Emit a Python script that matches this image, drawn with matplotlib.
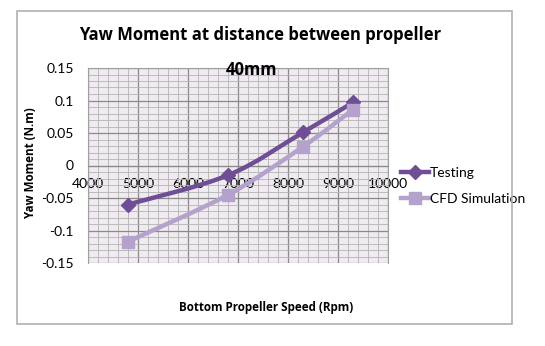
import numpy as np
import matplotlib.pyplot as plt
from matplotlib.ticker import MultipleLocator
from matplotlib.patches import Rectangle, PathPatch
from matplotlib.path import Path

plt.rcParams['font.family'] = ['Lato', 'DejaVu Sans']
bold_font = ['Open Sans', 'DejaVu Sans']

speed_testing = [4800, 6800, 8300, 9300]
moment_testing = [-0.06, -0.015, 0.051, 0.097]
speed_cfd = [4800, 6800, 8300, 9300]
moment_cfd = [-0.117, -0.045, 0.029, 0.086]


def smooth_path(xs, ys):
    # Excel style smoothed line: cubic Bezier through each point
    pts = np.column_stack([xs, ys]).astype(float)
    n = len(pts)
    verts = [pts[0]]
    codes = [Path.MOVETO]
    for i in range(n - 1):
        p0 = pts[i - 1] if i > 0 else pts[i]
        p1, p2 = pts[i], pts[i + 1]
        p3 = pts[i + 2] if i + 2 < n else pts[i + 1]
        verts += [p1 + (p2 - p0) / 6, p2 - (p3 - p1) / 6, p2]
        codes += [Path.CURVE4] * 3
    return Path(verts, codes)


fig = plt.figure(figsize=(5.45, 3.46), dpi=100)
# outer chart frame
fig.patches.append(Rectangle((17 / 545, 1 - 324 / 346), 495 / 545, 313 / 346,
                             transform=fig.transFigure, fill=False,
                             edgecolor='#b0b0b0', linewidth=1.2))
ax = fig.add_axes([88 / 545, 1 - 263 / 346, 300 / 545, 195 / 346])
ax.set_facecolor('#efebf1')

c_test = '#6f4e96'
c_cfd = '#b4a2cc'
ax.add_patch(PathPatch(smooth_path(speed_testing, moment_testing), fill=False,
                       edgecolor=c_test, linewidth=3.2, zorder=3))
ax.add_patch(PathPatch(smooth_path(speed_cfd, moment_cfd), fill=False,
                       edgecolor=c_cfd, linewidth=3.2, zorder=3))
ax.plot(speed_testing, moment_testing, color=c_test, linewidth=3.2,
        linestyle='none', marker='D', markersize=7, zorder=4)
ax.plot(speed_cfd, moment_cfd, color=c_cfd, linewidth=3.2,
        linestyle='none', marker='s', markersize=9, zorder=4)
# legend handles
ax.plot([], [], color=c_test, linewidth=3.2, marker='D', markersize=7,
        label='Testing')
ax.plot([], [], color=c_cfd, linewidth=3.2, marker='s', markersize=9,
        label='CFD Simulation')

ax.set_xlim(4000, 10000)
ax.set_ylim(-0.15, 0.15)
ax.xaxis.set_major_locator(MultipleLocator(1000))
ax.xaxis.set_minor_locator(MultipleLocator(200))
ax.yaxis.set_minor_locator(MultipleLocator(0.01))
ax.set_yticks([-0.15, -0.1, -0.05, 0, 0.05, 0.1, 0.15])
ax.set_yticklabels(['-0.15', '-0.1', '-0.05', '0', '0.05', '0.1', '0.15'])

ax.grid(which='major', color='#8a8a8a', linewidth=0.9)
ax.grid(which='minor', color='#b4b4b4', linewidth=0.6)
ax.set_axisbelow(True)

ax.spines['bottom'].set_position(('data', 0))
ax.spines['bottom'].set_color('#8a8a8a')
for s in ['top', 'left', 'right']:
    ax.spines[s].set_color('#a0a0a0')
ax.tick_params(which='both', length=0)
ax.tick_params(axis='x', labelsize=10, pad=9)
ax.tick_params(axis='y', labelsize=10, pad=10)

fig.text(260 / 545, 1 - 35 / 346, 'Yaw Moment at distance between propeller',
         ha='center', va='center', fontsize=12, fontweight='bold',
         family=bold_font)
fig.text(252 / 545, 1 - 70 / 346, '40mm', ha='center', va='center',
         fontsize=12, fontweight='bold', family=bold_font, zorder=5)
fig.text(30 / 545, 1 - 163 / 346, 'Yaw Moment (N.m)', rotation=90,
         ha='center', va='center', fontsize=8.4, fontweight='bold',
         family=bold_font)
fig.text(266 / 545, 1 - 308 / 346, 'Bottom Propeller Speed (Rpm)',
         ha='center', va='center', fontsize=8.4, fontweight='bold',
         family=bold_font)

ax.legend(loc='center left', bbox_to_anchor=(401 / 545, 1 - 186 / 346),
          bbox_transform=fig.transFigure, frameon=False, fontsize=10,
          handlelength=2.0, handletextpad=0.1, labelspacing=1.0,
          borderaxespad=0, borderpad=0)

fig.savefig('out.png', dpi=100)
